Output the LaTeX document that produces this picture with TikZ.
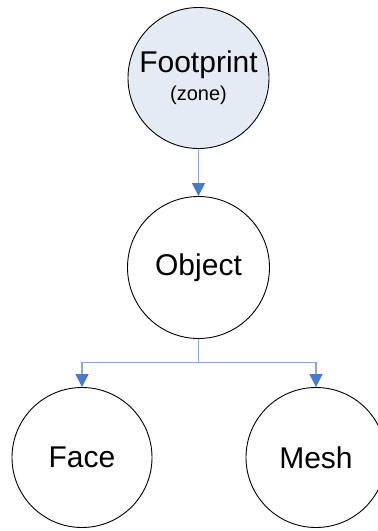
\documentclass[tikz,border=0pt]{standalone}
\usepackage{fontspec}
\setmainfont{Liberation Sans}
\usetikzlibrary{arrows.meta}
\definecolor{linkblue}{HTML}{89A7DA}
\definecolor{tipblue}{HTML}{4A7BC6}
\definecolor{footfill}{HTML}{E5EBF5}
\begin{document}
\begin{tikzpicture}[x=1pt,y=-1pt,
  circ/.style={circle,draw=black,line width=0.9pt,inner sep=0pt,align=center,
    font=\fontsize{30}{28}\selectfont},
  link/.style={draw=linkblue,line width=1.6pt,
    -{Triangle[width=13pt,length=13pt,color=tipblue]}}]
\useasboundingbox (0,0) rectangle (378,531);
\clip (0,0) rectangle (378,531);
\node[circ,fill=footfill,minimum size=141pt] (foot) at (198.5,78)
  {Footprint\\{\fontsize{20}{24}\selectfont (zone)}};
\node[circ,minimum size=142pt] (obj) at (198.5,267.5) {Object};
\node[circ,minimum size=140pt] (face) at (82,457.5) {\raisebox{-1.5pt}{Face}};
\node[circ,minimum size=140pt] (mesh) at (316,457.5) {\raisebox{-1.5pt}{Mesh}};
\coordinate (split) at (198.5,362.5);
\draw[link] (foot) -- (obj);
\draw[link] (obj.south) -- (split) -| (face.north);
\draw[link] (obj.south) -- (split) -| (mesh.north);
\end{tikzpicture}
\end{document}
